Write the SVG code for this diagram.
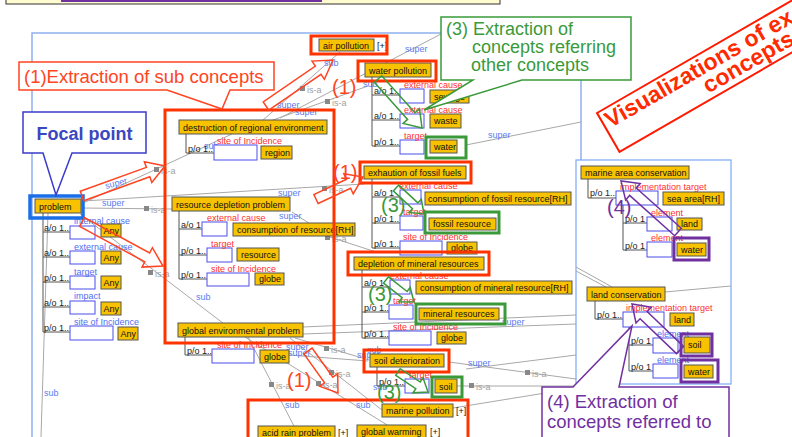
<svg xmlns="http://www.w3.org/2000/svg" width="792" height="437" viewBox="0 0 792 437">
<style>
text{font-family:"Liberation Sans",Arial,sans-serif}
.n{fill:#f8c200;stroke:#555;stroke-width:1}
.sl{fill:#fff;stroke:#4d4dee;stroke-width:1}
.nt{font-size:9px;fill:#111}
.lt{font-size:9px;fill:#222}
.rr{font-size:9px;fill:#ff3030}
.rb{font-size:9px;fill:#4f6ff0}
.sp{font-size:9px;fill:#5a7cf0}
.ia{font-size:9px;fill:#a0a0a0}
.sq{fill:#888}
.gl{stroke:#a8a8a8;stroke-width:1;fill:none}
.br{stroke:#555;stroke-width:1;fill:none}
.ro{fill:none;stroke:#ff3300;stroke-width:3}
.go{fill:none;stroke:#3a9a3a;stroke-width:3}
.po{fill:none;stroke:#7030a0;stroke-width:3}
.ra{fill:none;stroke:#ff4422;stroke-width:1.5}
.ga{fill:none;stroke:#3a9a3a;stroke-width:1.5}
.pa{fill:none;stroke:#7030a0;stroke-width:1.5}
.big{font-size:20px}
</style>
<rect width="792" height="437" fill="#fff"/>
<!-- top bar -->
<rect x="6" y="-5" width="494" height="9" fill="#fffbd0" stroke="#333"/>
<rect x="61" y="-1" width="261" height="3" fill="#7030a0"/>
<!-- main frame -->
<polyline points="32,437 32,33 581,33 581,160" fill="none" stroke="#8fb0f0" stroke-width="1.5"/>

<g id="connectors">
<line class="gl" x1="262" y1="121" x2="340" y2="52"/>
<line class="gl" x1="262" y1="124" x2="368" y2="86"/>
<line class="gl" x1="280" y1="118" x2="441" y2="34"/>
<line class="gl" x1="466" y1="145" x2="581" y2="122"/>
<line class="gl" x1="81" y1="204" x2="232" y2="134"/>
<line class="gl" x1="83" y1="201" x2="364" y2="184"/>
<line class="gl" x1="83" y1="208" x2="172" y2="209"/>
<line class="gl" x1="80" y1="214" x2="232" y2="330"/>
<polyline class="gl" points="292,212 330,237 376,252"/>
<line class="gl" x1="295" y1="338" x2="369" y2="360"/>
<line class="gl" x1="289" y1="355" x2="368" y2="361"/>
<line class="gl" x1="290" y1="338" x2="382" y2="410"/>
<line class="gl" x1="245" y1="337" x2="392" y2="428"/>
<line class="gl" x1="248" y1="337" x2="296" y2="430"/>
<line class="gl" x1="303" y1="327" x2="576" y2="315"/>
<line class="gl" x1="303" y1="334" x2="576" y2="324"/>
<line class="gl" x1="449" y1="362" x2="576" y2="379"/>
<line class="gl" x1="457" y1="386" x2="576" y2="386"/>
<line class="gl" x1="466" y1="369" x2="576" y2="355"/>
<line class="gl" x1="453" y1="408" x2="576" y2="388"/>
<line class="gl" x1="48" y1="213" x2="41" y2="437"/>
<!-- is-a markers -->
<rect class="sq" x="300" y="86" width="5" height="5"/><text class="ia" x="307" y="93">is-a</text>
<rect class="sq" x="325" y="99" width="5" height="5"/><text class="ia" x="332" y="106">is-a</text>
<rect class="sq" x="154" y="167" width="5" height="5"/><text class="ia" x="161" y="174">is-a</text>
<rect class="sq" x="144" y="206" width="5" height="5"/><text class="ia" x="151" y="213">is-a</text>
<rect class="sq" x="148" y="270" width="5" height="5"/><text class="ia" x="155" y="277">is-a</text>
<rect class="sq" x="322" y="186" width="5" height="5"/><text class="ia" x="329" y="193">is-a</text>
<rect class="sq" x="325" y="235" width="5" height="5"/><text class="ia" x="332" y="242">is-a</text>
<rect class="sq" x="324" y="346" width="5" height="5"/><text class="ia" x="331" y="353">is-a</text>
<rect class="sq" x="329" y="370" width="5" height="5"/><text class="ia" x="336" y="377">is-a</text>
<rect class="sq" x="269" y="382" width="5" height="5"/><text class="ia" x="276" y="389">is-a</text>
<rect class="sq" x="316" y="381" width="5" height="5"/><text class="ia" x="323" y="388">is-a</text>
<rect class="sq" x="525" y="370" width="5" height="5"/><text class="ia" x="532" y="377">is-a</text>
<rect class="sq" x="469" y="383" width="5" height="5"/><text class="ia" x="476" y="390">is-a</text>
<!-- super / sub -->
<text class="sp" x="324" y="66">sub</text>
<text class="sp" x="405" y="52" font-size="10">super</text>
<text class="sp" x="363" y="87">sub</text>
<text class="sp" x="277" y="108">super</text>
<text class="sp" x="295" y="115">super</text>
<text class="sp" x="488" y="138">super</text>
<text class="sp" x="204" y="149">sub</text>
<text class="sp" x="106" y="189" transform="rotate(-15 106 189)">super</text>
<text class="sp" x="102" y="206">super</text>
<text class="sp" x="278" y="196">super</text>
<text class="sp" x="279" y="219">super</text>
<text class="sp" x="196" y="300">sub</text>
<text class="sp" x="44" y="396">sub</text>
<text class="sp" x="286" y="350">super</text>
<text class="sp" x="288" y="356">super</text>
<text class="sp" x="285" y="408">sub</text>
<text class="sp" x="356" y="408">sub</text>
<text class="sp" x="502" y="325">super</text>
<text class="sp" x="468" y="366">super</text>
<text class="sp" x="367" y="353">sub</text>
<text class="sp" x="357" y="358">super</text>
<text class="sp" x="373" y="390">sub</text>
</g>

<!-- marine/land panel -->
<rect x="576" y="160" width="155" height="224" fill="#fff" stroke="#7aa8f5" stroke-width="1.2"/>
<g id="panel-connectors">
<line class="gl" x1="576" y1="267" x2="612" y2="287"/>
<line class="gl" x1="576" y1="271" x2="606" y2="287"/>
<line class="gl" x1="665" y1="292" x2="731" y2="286"/>
</g>

<g id="node-air-pollution">
<rect class="n" x="319" y="39" width="55" height="12"/><text class="nt" x="323" y="48.5">air pollution</text><text class="nt" x="377" y="48.5">[+]</text>
</g>
<g id="node-water-pollution">
<rect class="n" x="365" y="63" width="66" height="14"/><text class="nt" x="369" y="73.5">water pollution</text>
<path class="br" d="M372,77 V146 M372,95 H400 M372,120 H400 M372,146 H400"/>
<text class="lt" x="374" y="94">a/o 1..</text><text class="lt" x="374" y="119">a/o 1..</text><text class="lt" x="374" y="145">p/o 1..</text>
<rect class="sl" x="400" y="89" width="24" height="14"/><rect class="sl" x="400" y="114" width="24" height="14"/><rect class="sl" x="400" y="140" width="24" height="14"/>
<text class="rr" x="404" y="88">external cause</text><text class="rr" x="404" y="113">external cause</text><text class="rr" x="404" y="139">target</text>
</g>
<g id="node-sewage"><rect class="n" x="430" y="90" width="39" height="13"/><text class="nt" x="434" y="99.5">sewage</text></g>
<g id="node-waste"><rect class="n" x="430" y="114" width="31" height="14"/><text class="nt" x="434" y="124">waste</text></g>
<g id="node-water-1"><rect class="n" x="430" y="140" width="27" height="13"/><text class="nt" x="434" y="149.5">water</text></g>

<g id="node-destruction">
<rect class="n" x="179" y="120" width="148" height="14"/><text class="nt" x="183" y="130.5">destruction of regional environment</text>
<path class="br" d="M186,134 V153 H214"/>
<text class="lt" x="188" y="152">p/o 1..</text>
<rect class="sl" x="214" y="145" width="43" height="15"/>
<text class="rr" x="217" y="144">site of Incidence</text>
</g>
<g id="node-region"><rect class="n" x="261" y="146" width="31" height="13"/><text class="nt" x="265" y="155.5">region</text></g>

<g id="node-problem">
<rect class="n" x="35" y="199" width="46" height="14"/><text class="nt" x="39" y="209.5">problem</text>
<path class="br" d="M43,213 V332 M43,232 H70 M43,257 H70 M43,282 H70 M43,307 H70 M43,332 H70"/>
<text class="lt" x="44" y="231">a/o 1..</text><text class="lt" x="44" y="256">a/o 1..</text><text class="lt" x="44" y="281">p/o 1..</text><text class="lt" x="44" y="306">a/o 1..</text><text class="lt" x="44" y="331">p/o 1..</text>
<rect class="sl" x="70" y="226" width="25" height="13"/><rect class="sl" x="70" y="251" width="25" height="13"/><rect class="sl" x="70" y="276" width="25" height="13"/><rect class="sl" x="70" y="301" width="25" height="13"/><rect class="sl" x="70" y="326" width="43" height="14"/>
<text class="rb" x="74" y="224">internal cause</text><text class="rb" x="74" y="250">external cause</text><text class="rb" x="74" y="275">target</text><text class="rb" x="74" y="299">impact</text><text class="rb" x="74" y="325">site of Incidence</text>
<g id="node-any"><rect class="n" x="101" y="224" width="20" height="13"/><text class="nt" x="103.5" y="233.5">Any</text>
<rect class="n" x="101" y="251" width="20" height="13"/><text class="nt" x="103.5" y="260.5">Any</text>
<rect class="n" x="101" y="276" width="20" height="13"/><text class="nt" x="103.5" y="285.5">Any</text>
<rect class="n" x="101" y="302" width="20" height="13"/><text class="nt" x="103.5" y="311.5">Any</text>
<rect class="n" x="118" y="327" width="20" height="13"/><text class="nt" x="120.5" y="336.5">Any</text></g>
</g>
<rect x="30" y="196" width="53" height="22" fill="none" stroke="#1a6fe8" stroke-width="3.5"/>

<g id="node-resource-depletion">
<rect class="n" x="172" y="197" width="118" height="14"/><text class="nt" x="176" y="207.5">resource depletion problem</text>
<path class="br" d="M179,211 V279 M179,229 H202 M179,255 H207 M179,279 H207"/>
<text class="lt" x="181" y="228">a/o 1</text><text class="lt" x="181" y="254">p/o 1..</text><text class="lt" x="181" y="278">p/o 1..</text>
<rect class="sl" x="202" y="222" width="25" height="14"/><rect class="sl" x="207" y="248" width="25" height="14"/><rect class="sl" x="207" y="273" width="42" height="13"/>
<text class="rr" x="207" y="221">external cause</text><text class="rr" x="211" y="247">target</text><text class="rr" x="211" y="272">site of Incidence</text>
</g>
<g id="node-consumption-resource"><rect class="n" x="233" y="223" width="122" height="13"/><text class="nt" x="237" y="232.5">consumption of resource[RH]</text></g>
<g id="node-resource"><rect class="n" x="237" y="248" width="42" height="13"/><text class="nt" x="241" y="257.5">resource</text></g>
<g id="node-globe-1"><rect class="n" x="255" y="273" width="29" height="12"/><text class="nt" x="259" y="282">globe</text></g>

<g id="node-exhaustion">
<rect class="n" x="364" y="166" width="102" height="13"/><text class="nt" x="368" y="175.5">exhaution of fossil fuels</text>
<path class="br" d="M372,179 V248 M372,197 H400 M372,223 H400 M372,248 H400"/>
<text class="lt" x="374" y="196">a/o 1</text><text class="lt" x="374" y="222">p/o 1..</text><text class="lt" x="374" y="247">p/o 1..</text>
<rect class="sl" x="400" y="190" width="21" height="14"/><rect class="sl" x="400" y="216" width="23" height="14"/><rect class="sl" x="400" y="241" width="42" height="14"/>
<text class="rr" x="399" y="189">external cause</text><text class="rr" x="403" y="215">target</text><text class="rr" x="403" y="240">site of Incidence</text>
</g>
<g id="node-consumption-fossil"><rect class="n" x="425" y="192" width="146" height="13"/><text class="nt" x="428" y="201.5">consumption of fossil resource[RH]</text></g>
<g id="node-fossil-resource"><rect class="n" x="429" y="218" width="67" height="12"/><text class="nt" x="433" y="227">fossil resource</text></g>
<g id="node-globe-2"><rect class="n" x="447" y="242" width="30" height="12"/><text class="nt" x="451" y="251">globe</text></g>

<g id="node-depletion-mineral">
<rect class="n" x="354" y="257" width="130" height="13"/><text class="nt" x="358" y="266.5">depletion of mineral resources</text>
<path class="br" d="M362,270 V338 M362,287 H390 M362,312 H389 M362,338 H389"/>
<text class="lt" x="364" y="286">a/o 1</text><text class="lt" x="364" y="311">p/o 1..</text><text class="lt" x="364" y="337">p/o 1..</text>
<rect class="sl" x="390" y="280" width="20" height="14"/><rect class="sl" x="389" y="305" width="24" height="14"/><rect class="sl" x="389" y="331" width="42" height="14"/>
<text class="rr" x="390" y="279">external cause</text><text class="rr" x="393" y="304">target</text><text class="rr" x="393" y="330">site of Incidence</text>
</g>
<g id="node-consumption-mineral"><rect class="n" x="416" y="281" width="156" height="13"/><text class="nt" x="420" y="290.5">consumption of mineral resource[RH]</text></g>
<g id="node-mineral-resources"><rect class="n" x="419" y="308" width="80" height="12"/><text class="nt" x="423" y="317">mineral resources</text></g>
<g id="node-globe-3"><rect class="n" x="437" y="332" width="29" height="12"/><text class="nt" x="441" y="341">globe</text></g>

<g id="node-global-env">
<rect class="n" x="178" y="323" width="125" height="14"/><text class="nt" x="182" y="333.5">global environmental problem</text>
<path class="br" d="M185,337 V355 H212"/>
<text class="lt" x="187" y="354">p/o 1..</text>
<rect class="sl" x="212" y="349" width="42" height="14"/>
<text class="rr" x="217" y="348">site of Incidence</text>
</g>
<g id="node-globe-4"><rect class="n" x="260" y="350" width="29" height="13"/><text class="nt" x="264" y="359.5">globe</text></g>

<g id="node-soil-deterioration">
<rect class="n" x="370" y="354" width="74" height="13"/><text class="nt" x="374" y="363.5">soil deterioration</text>
<path class="br" d="M377,367 V386 H405"/>
<text class="lt" x="379" y="385">p/o 1..</text>
<rect class="sl" x="405" y="379" width="24" height="14"/>
<text class="rr" x="409" y="378">target</text>
</g>
<g id="node-soil-1"><rect class="n" x="435" y="379" width="22" height="14"/><text class="nt" x="439" y="389.5">soil</text></g>
<g id="node-marine-pollution"><rect class="n" x="382" y="404" width="71" height="13"/><text class="nt" x="386" y="413.5">marine pollution</text><text class="nt" x="456" y="413.5">[+]</text></g>
<g id="node-global-warming"><rect class="n" x="357" y="425" width="69" height="15"/><text class="nt" x="361" y="435">global warming</text><text class="nt" x="430" y="435">[+]</text></g>
<g id="node-acid-rain"><rect class="n" x="258" y="426" width="77" height="14"/><text class="nt" x="262" y="436">acid rain problem</text><text class="nt" x="338" y="436">[+]</text></g>

<g id="node-marine-area">
<rect class="n" x="581" y="166" width="108" height="13"/><text class="nt" x="585" y="175.5">marine area conservation</text>
<path class="br" d="M588,179 V198 H616 M623,205 V250 M623,223 H647 M623,250 H647"/>
<text class="lt" x="590" y="196">p/o 1..</text><text class="lt" x="625" y="222">p/o 1</text><text class="lt" x="625" y="249">p/o 1</text>
<rect class="sl" x="616" y="191" width="42" height="14"/><rect class="sl" x="647" y="217" width="25" height="14"/><rect class="sl" x="647" y="242" width="25" height="15"/>
<text class="rr" x="620" y="190">implementation target</text><text class="rr" x="651" y="216">element</text><text class="rr" x="651" y="241">element</text>
</g>
<g id="node-sea-area"><rect class="n" x="663" y="192" width="61" height="13"/><text class="nt" x="667" y="201.5">sea area[RH]</text></g>
<g id="node-land-1"><rect class="n" x="677" y="218" width="25" height="12"/><text class="nt" x="681" y="227">land</text></g>
<g id="node-water-2"><rect class="n" x="677" y="243" width="29" height="13"/><text class="nt" x="681" y="252.5">water</text></g>

<g id="node-land-conservation">
<rect class="n" x="587" y="287" width="78" height="14"/><text class="nt" x="591" y="297.5">land conservation</text>
<path class="br" d="M595,301 V319 H623 M629,327 V371 M629,345 H653 M629,371 H653"/>
<text class="lt" x="597" y="318">p/o 1..</text><text class="lt" x="631" y="344">p/o 1</text><text class="lt" x="631" y="370">p/o 1</text>
<rect class="sl" x="623" y="312" width="41" height="15"/><rect class="sl" x="653" y="338" width="25" height="15"/><rect class="sl" x="653" y="364" width="25" height="14"/>
<text class="rr" x="626" y="311">implementation target</text><text class="rb" x="657" y="337">element</text><text class="rb" x="657" y="363">element</text>
</g>
<g id="node-land-2"><rect class="n" x="670" y="313" width="24" height="13"/><text class="nt" x="674" y="322.5">land</text></g>
<g id="node-soil-2"><rect class="n" x="684" y="337" width="26" height="16"/><text class="nt" x="688" y="348">soil</text></g>
<g id="node-water-3"><rect class="n" x="684" y="365" width="29" height="13"/><text class="nt" x="688" y="374.5">water</text></g>

<!-- highlight outlines -->
<g id="highlights">
<rect class="ro" x="311" y="36" width="76" height="18"/>
<rect class="ro" x="358" y="61" width="78" height="20"/>
<rect class="ro" x="360" y="162" width="111" height="21"/>
<rect class="ro" x="348" y="252" width="141" height="23"/>
<rect class="ro" x="364" y="350" width="85" height="22"/>
<rect class="ro" x="248" y="400" width="220" height="45"/>
<rect class="ro" x="165" y="110" width="169" height="233" stroke-width="3.5"/>
<rect class="go" x="426" y="137" width="40" height="21"/>
<rect class="go" x="425" y="212" width="74" height="21"/>
<rect class="go" x="416" y="304" width="89" height="20"/>
<rect class="go" x="432" y="377" width="30" height="20"/>
<rect class="po" x="674" y="238" width="35" height="22"/>
<rect class="po" x="681" y="334" width="31" height="22"/>
<rect class="po" x="681" y="360" width="37" height="22"/>
</g>

<!-- hollow arrows -->
<g id="arrows">
<polygon class="ra" points="268.8,110.1 321.0,74.3 324.4,79.3 333,60 312.0,61.1 315.4,66.1 263.2,101.9"/>
<polygon class="ra" points="83.7,200.7 149.8,176.8 151.8,182.4 165,166 144.4,161.8 146.4,167.4 80.3,191.3"/>
<polygon class="ra" points="79.6,226.4 144.8,261.8 142.0,267.1 163,266 152.4,247.7 149.6,253.0 84.4,217.6"/>
<polygon class="ra" points="318.1,203.5 350.6,188.3 353.2,193.8 363,177 343.8,173.8 346.4,179.3 313.9,194.5"/>
<polygon class="ra" points="303.9,353.9 324.6,382.9 319.7,386.4 338,393 337.7,373.6 332.8,377.1 312.1,348.1"/>
<polygon class="ga" points="374.3,82.3 407.6,119.4 403.1,123.4 422,128 419.5,108.8 415.0,112.8 381.7,75.7"/>
<polygon class="ga" points="393.3,190.9 412.5,208.7 409.1,212.4 424,214 421.3,199.2 417.9,202.9 398.7,185.1"/>
<polygon class="ga" points="383.5,283.1 402.1,297.7 399.0,301.7 414,302 410.2,287.5 407.1,291.5 388.5,276.9"/>
<polygon class="ga" points="395.8,375.3 415.8,388.6 413.0,392.8 428,392 423.0,377.8 420.2,382.0 400.2,368.7"/>
<polygon class="pa" points="681.3,228.3 636.2,188.0 640.2,183.5 621,181 625.6,199.9 629.6,195.4 674.7,235.7"/>
<polygon class="pa" points="683.5,346.4 647.1,311.5 651.2,307.2 632,304 636.0,323.0 640.1,318.7 676.5,353.6"/>
<text class="big" x="332" y="94" fill="#ff4422">(1)</text>
<text class="big" x="333" y="179" fill="#ff4422">(1)</text>
<text class="big" x="287" y="387" fill="#ff4422">(1)</text>
<text class="big" x="381" y="212" fill="#3a9a3a">(3)</text>
<text class="big" x="368" y="301" fill="#3a9a3a">(3)</text>
<text class="big" x="377" y="399" fill="#3a9a3a">(3)</text>
<text class="big" x="607" y="214" fill="#7030a0">(4)</text>
</g>

<!-- callouts -->
<g id="callout-sub">
<path d="M19,62 H274 V90 H230 L222,109 L167,90 H19 Z" fill="#fff" stroke="#ff4422" stroke-width="1.5"/>
<text x="24" y="83" font-size="18.5" fill="#ff4422">(1)Extraction of sub concepts</text>
</g>
<g id="callout-focal">
<path d="M23,112 H146 V153 H72 L56,195 L43,153 H23 Z" fill="#fff" stroke="#3b3bcc" stroke-width="1.5"/>
<text x="84.5" y="140" font-size="18" font-weight="bold" fill="#3b46c0" text-anchor="middle">Focal point</text>
</g>
<g id="callout-referring">
<path d="M441,17 H631 V80 H522 L424,110 L473,80 H441 Z" fill="#fff" stroke="#3a9a3a" stroke-width="1.5"/>
<text x="446" y="35" font-size="18" fill="#3a9a3a">(3) Extraction of</text>
<text x="472" y="53" font-size="18" fill="#3a9a3a">concepts referring</text>
<text x="471" y="71" font-size="18" fill="#3a9a3a">other concepts</text>
</g>
<g id="callout-referred">
<path d="M542,387 H573 L632,326 L619,387 H729 V445 H542 Z" fill="#fff" stroke="#7030a0" stroke-width="1.5"/>
<text x="547" y="408" font-size="18.5" fill="#7030a0">(4) Extraction of</text>
<text x="547" y="428" font-size="18.5" fill="#7030a0">concepts referred to</text>
</g>
<g id="title-visualizations" transform="translate(597,113) rotate(-30)">
<rect x="0" y="0" width="260" height="45" fill="#fff" stroke="#ff1a00" stroke-width="2"/>
<text x="4" y="20" font-size="23" font-weight="bold" fill="#ff2a00">Visualizations of ex</text>
<text x="106" y="39" font-size="23" font-weight="bold" fill="#ff2a00">concepts</text>
</g>
</svg>
